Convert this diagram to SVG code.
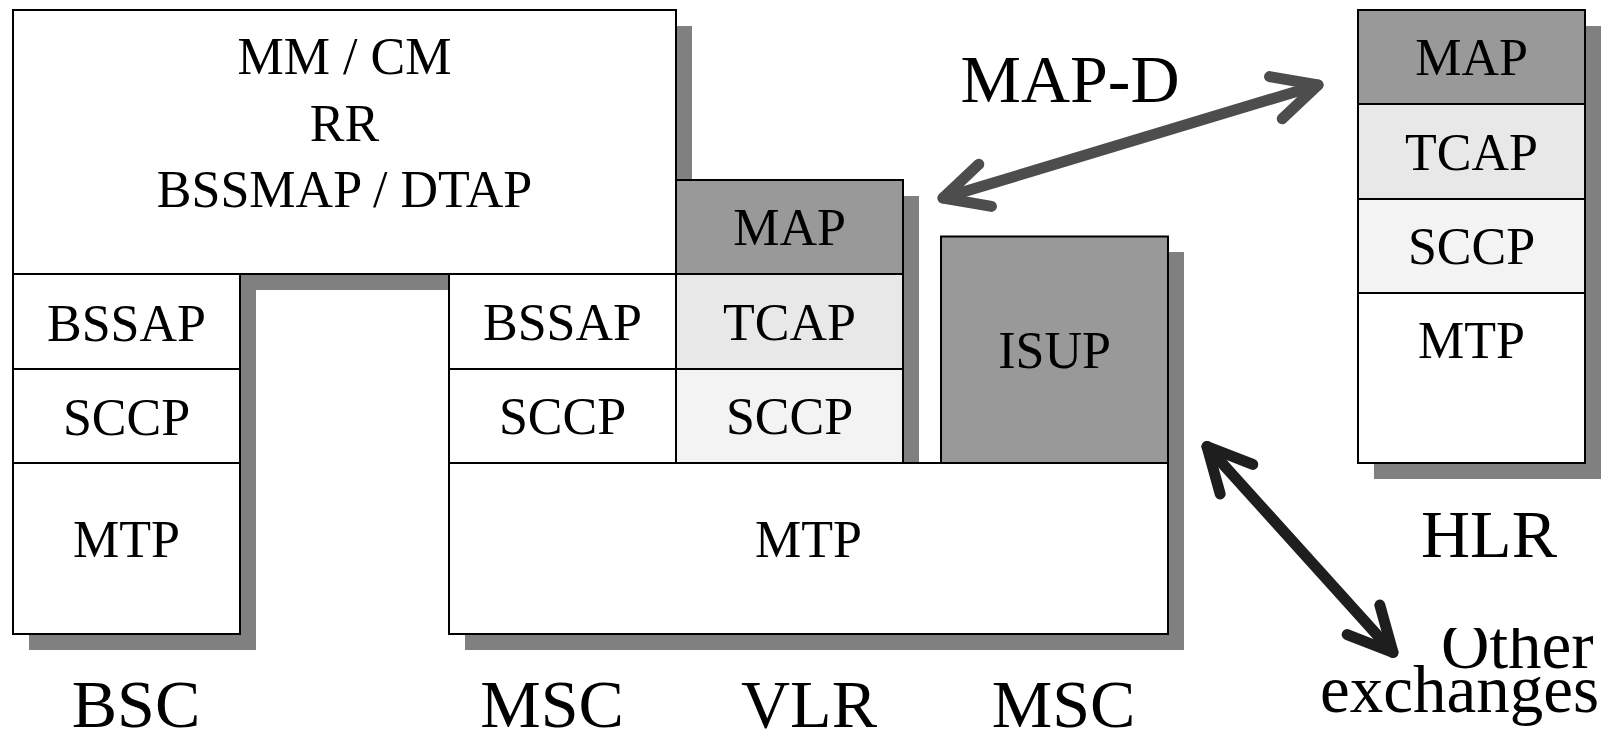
<svg xmlns="http://www.w3.org/2000/svg" width="1619" height="735" viewBox="0 0 1619 735">
  <defs>
    <style>
      .layer { stroke: #000; stroke-width: 2; }
      .plain { fill: #fff; }
      .dark { fill: #999999; }
      .mid { fill: #e8e8e8; }
      .light { fill: #f3f3f3; }
      .shadow { fill: #808080; }
      text { font-family: "Liberation Serif", "Times New Roman", serif; text-anchor: middle; fill: #000; }
      .lbl { font-size: 52px; }
      .name { font-size: 68px; }
      .link { fill: none; stroke-width: 11; stroke-linecap: round; stroke-linejoin: round; }
    </style>
    <marker id="headGrey" markerUnits="userSpaceOnUse" orient="auto-start-reverse" refX="0" refY="0" markerWidth="60" markerHeight="60" overflow="visible">
      <path d="M -44 -22 L 0 0 L -44 22" fill="none" stroke="#4d4d4d" stroke-width="11" stroke-linecap="round" stroke-linejoin="round"/>
    </marker>
    <marker id="headBlack" markerUnits="userSpaceOnUse" orient="auto-start-reverse" refX="0" refY="0" markerWidth="60" markerHeight="60" overflow="visible">
      <path d="M -44 -22 L 0 0 L -44 22" fill="none" stroke="#1e1e1e" stroke-width="11" stroke-linecap="round" stroke-linejoin="round"/>
    </marker>
    <clipPath id="otherClip">
      <rect x="1400" y="628" width="219" height="60"/>
    </clipPath>
  </defs>

  <rect x="0" y="0" width="1619" height="735" fill="#fff"/>

  <!-- drop shadows, drawn beneath every stack -->
  <g id="shadows">
    <rect class="shadow" x="29" y="26" width="663" height="264"/>
    <rect class="shadow" x="29" y="290" width="227" height="360"/>
    <rect class="shadow" x="465" y="290" width="227" height="189"/>
    <rect class="shadow" x="692" y="196" width="227" height="283"/>
    <rect class="shadow" x="957" y="252" width="227" height="227"/>
    <rect class="shadow" x="465" y="479" width="719" height="171"/>
    <rect class="shadow" x="1374" y="26" width="227" height="453"/>
  </g>

  <!-- shared upper layers of BSC and MSC -->
  <g id="upper-layers">
    <rect class="layer plain" x="13" y="10" width="663" height="264"/>
    <text class="lbl" x="344.5" y="74">MM / CM</text>
    <text class="lbl" x="344.5" y="141">RR</text>
    <text class="lbl" x="344.5" y="207">BSSMAP / DTAP</text>
  </g>

  <!-- BSC stack -->
  <g id="bsc">
    <rect class="layer plain" x="13" y="274" width="227" height="95"/>
    <rect class="layer plain" x="13" y="369" width="227" height="94"/>
    <rect class="layer plain" x="13" y="463" width="227" height="171"/>
    <text class="lbl" x="126.5" y="341">BSSAP</text>
    <text class="lbl" x="126.5" y="435">SCCP</text>
    <text class="lbl" x="126.5" y="557">MTP</text>
    <text class="name" x="136" y="727">BSC</text>
  </g>

  <!-- MSC side of the BSS interface -->
  <g id="msc-bssap">
    <rect class="layer plain" x="449" y="274" width="227" height="95"/>
    <rect class="layer plain" x="449" y="369" width="227" height="94"/>
    <text class="lbl" x="562.5" y="340">BSSAP</text>
    <text class="lbl" x="562.5" y="434">SCCP</text>
    <text class="name" x="552" y="727">MSC</text>
  </g>

  <!-- VLR stack -->
  <g id="vlr">
    <rect class="layer dark" x="676" y="180" width="227" height="94"/>
    <rect class="layer mid" x="676" y="274" width="227" height="95"/>
    <rect class="layer light" x="676" y="369" width="227" height="94"/>
    <text class="lbl" x="789.5" y="245">MAP</text>
    <text class="lbl" x="789.5" y="340">TCAP</text>
    <text class="lbl" x="789.5" y="434">SCCP</text>
    <text class="name" x="809" y="727">VLR</text>
  </g>

  <!-- ISUP block -->
  <g id="isup">
    <rect class="layer dark" x="941" y="236.5" width="227" height="226.5"/>
    <text class="lbl" x="1054.5" y="368" fill="#1a1a1a">ISUP</text>
    <text class="name" x="1063.5" y="727">MSC</text>
  </g>

  <!-- common MTP -->
  <g id="mtp">
    <rect class="layer plain" x="449" y="463" width="719" height="171"/>
    <text class="lbl" x="808.5" y="557">MTP</text>
  </g>

  <!-- HLR stack -->
  <g id="hlr">
    <rect class="layer dark" x="1358" y="10" width="227" height="94"/>
    <rect class="layer mid" x="1358" y="104" width="227" height="95"/>
    <rect class="layer light" x="1358" y="199" width="227" height="94"/>
    <rect class="layer plain" x="1358" y="293" width="227" height="170"/>
    <text class="lbl" x="1471.5" y="75">MAP</text>
    <text class="lbl" x="1471.5" y="170">TCAP</text>
    <text class="lbl" x="1471.5" y="264">SCCP</text>
    <text class="lbl" x="1471.5" y="358">MTP</text>
    <text class="name" x="1489" y="557">HLR</text>
  </g>

  <!-- other exchanges -->
  <g id="other-exchanges">
    <text style="text-anchor:start;font-size:67px" x="1441" y="668" clip-path="url(#otherClip)">Other</text>
    <text style="text-anchor:start;font-size:67px" x="1320" y="712">exchanges</text>
  </g>

  <!-- connectors -->
  <g id="connectors">
    <path class="link" d="M 943 198 L 1318 85" stroke="#4d4d4d" marker-start="url(#headGrey)" marker-end="url(#headGrey)"/>
    <text class="name" x="1070" y="102" fill="#4d4d4d">MAP-D</text>
    <path class="link" d="M 1207 446.5 L 1393 652.5" stroke="#1e1e1e" marker-start="url(#headBlack)" marker-end="url(#headBlack)"/>
  </g>
</svg>
